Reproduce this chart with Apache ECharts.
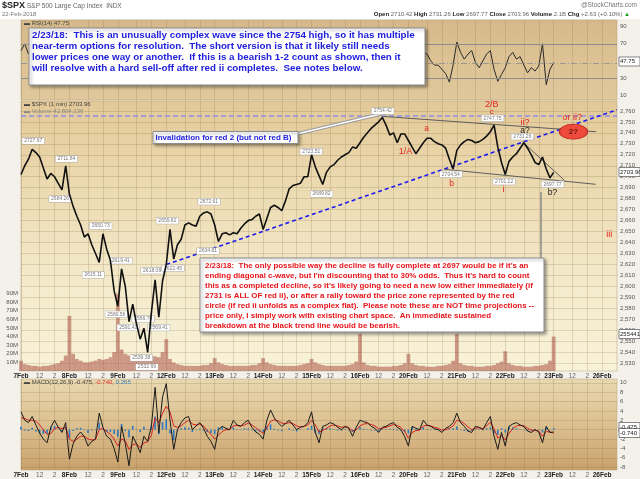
<!DOCTYPE html>
<html lang="en">
<head>
<meta charset="UTF-8">
<title>$SPX 1 min</title>
<script src="https://cdn.jsdelivr.net/npm/echarts@6/dist/echarts.min.js"></script>
<style>
html, body { margin: 0; padding: 0; background: #fff; }
#main { width: 640px; height: 479px; }
</style>
</head>
<body>
<div id="main"></div>
<script>
// one slot = 30 minutes, 13 slots per trading day
var days = ['7Feb','8Feb','9Feb','12Feb','13Feb','14Feb','15Feb','16Feb','20Feb','21Feb','22Feb','23Feb','26Feb'];

var price = [
  2702,2710,2716,2725,2722,2718,2708,2698,2703,2700,2694,2688,2710,
  2684,2673,2664,2656,2645,2648,2638,2630,2622,2648,2634,2624,2596,
  2582,2616,2600,2568,2584,2566,2552,2562,2540,2576,2606,2572,2605,
  2620,2652,2625,2638,2643,2656,2658,2656,2655,2664,2667,2668,2666,
  2656,2641,2648,2649,2647,2649,2648,2653,2657,2660,2661,2664,2666,
  2652,2662,2672,2674,2672,2669,2678,2689,2692,2693,2694,2700,2700,
  2720,2709,2701,2693,2704,2709,2711,2715,2718,2720,2722,2727,2726,
  2731,2736,2740,2744,2747,2750,2754,2747,2738,2740,2731,2739,2739,
  2733,2727,2721,2726,2731,2735,2735,2732,2730,2729,2726,2716,2707,
  2724,2729,2732,2734,2733,2731,2732,2734,2737,2741,2747,2727,2713,
  2702,2714,2718,2721,2726,2731,2726,2720,2713,2711,2718,2707,2699,2704
];

// volume in millions
var volume = [
  12,8,7,6,6,5,6,6,7,8,9,12,18,
  64,20,14,12,10,10,11,12,14,13,14,16,22,
  90,25,20,18,16,15,14,14,15,18,17,16,22,
  37,14,10,8,7,6,6,6,6,6,7,7,9,
  15,10,8,7,6,6,6,6,6,6,7,7,9,
  15,10,8,7,6,6,6,6,6,6,7,8,9,
  14,10,8,7,6,6,6,6,6,6,7,8,11,
  43,10,7,6,6,5,5,5,5,6,6,7,9,
  20,9,7,6,6,5,5,5,6,6,7,8,12,
  43,9,7,6,6,5,5,5,6,6,7,9,11,
  23,9,7,6,6,5,5,5,6,6,7,8,12,40
];

var rsi = [
  62,70,58,66,48,40,55,38,60,45,22,50,68,
  30,42,35,48,38,25,45,40,58,35,42,30,38,
  55,60,22,45,35,50,30,55,40,68,72,38,65,
  70,62,35,58,62,55,45,60,52,58,48,40,45,
  40,55,52,48,55,50,58,60,52,48,55,50,45,
  24,62,60,55,48,52,62,58,50,55,60,48,52,
  68,60,30,55,58,52,58,55,50,56,60,48,52,
  62,58,60,56,54,60,64,35,38,55,40,60,50,
  22,45,38,55,60,58,50,45,45,40,35,25,45,
  72,60,52,58,62,48,42,50,58,62,40,26,34,
  42,55,60,52,55,45,36,42,38,44,70,22,40,48
];

var macd = [
  3.8,2,1.5,2.8,1,-0.7,-2,-2.8,0.5,2,0.5,-0.6,1.5,
  -6.3,-3,-1.4,-0.5,-1.5,-3.5,-2.5,-2,3.5,0.5,-1.4,-2,-4,
  -6.9,0.7,-3,-7.7,-1.4,-3,-4.9,-1.4,-2.5,0.7,9,-0.7,7,
  9.8,2,-4.2,0,1.5,2.5,2.8,0,0.8,1.5,0.3,-1.4,-2.5,
  -4.2,0,0.7,0.3,0,2,1,0.7,1.5,2,0.5,-0.5,-1,
  -2,2,4.2,2.5,1.5,0.7,1.3,2,1,0,0.5,0.7,1.5,
  3.8,-0.6,-2.8,0.7,1,1.5,1.2,0.5,0,0.7,0.3,-1.4,0.5,
  2,1.7,1.5,0.7,0.3,-0.6,0.5,0.7,1.2,1.5,0.5,0,-1.5,
  -3.5,0.7,0.3,0,2,1,0.7,0.2,0,-0.6,0.3,0.7,1.5,
  3.5,1.5,0.7,-0.3,-0.6,0.7,0.5,0,1.5,2.8,-1.4,-4.2,-0.6,
  -3.5,0.7,1.2,1.5,1,0.7,-0.3,-0.6,0,-0.5,-2.8,0.7,-0.6,-0.5
];

var signal = [
  2.5,2.4,2,2,1.8,1,0,-1,-0.8,0.2,0.5,0.2,0.5,
  -2,-2.5,-2,-1.4,-1.4,-2,-2.2,-2.1,0,0.3,-0.4,-1,-2,
  -3.5,-2,-2.4,-4.2,-3.2,-3,-3.8,-2.8,-2.6,-1.2,2.5,1.5,3.5,
  5,3.8,0.8,0.5,0.8,1.5,2,1.2,1,1.2,0.8,-0.2,-1,
  -2,-1.2,-0.4,0,0,0.8,0.9,0.8,1,1.4,1,0.4,-0.2,
  -0.8,0.4,1.8,2.1,1.9,1.4,1.3,1.5,1.3,0.8,0.6,0.7,1,
  2,1,-0.5,-0.2,0.3,0.8,1,0.8,0.5,0.6,0.5,-0.3,0,
  0.8,1.2,1.3,1.1,0.8,0.2,0.3,0.5,0.8,1.1,0.9,0.5,-0.4,
  -1.8,-0.6,-0.2,-0.1,0.8,0.9,0.8,0.5,0.3,-0.1,0,0.3,0.8,
  2,1.8,1.3,0.6,0,0.3,0.4,0.2,0.8,1.6,0.2,-1.8,-1.2,
  -2.2,-0.8,0.2,0.8,0.9,0.8,0.3,-0.1,-0.1,-0.3,-1.4,-0.4,-0.5,-0.74
];

var hist = [
  0.6,-0.2,-0.3,0.4,-0.4,-0.8,-0.9,-0.8,0.6,0.8,0,-0.4,0.5,
  -1.8,-0.3,0.3,0.4,-0.1,-0.7,-0.2,0.1,1.5,0.1,-0.5,-0.5,-0.9,
  -1.5,1.2,-0.3,-1.6,0.8,0.1,-0.5,0.6,0.1,0.9,2.8,-1,1.6,
  2.2,-0.8,-2.2,-0.2,0.3,0.5,0.4,-0.5,-0.1,0.2,-0.2,-0.5,-0.7,
  -1,0.5,0.5,0.2,0,0.5,0.1,-0.1,0.3,0.3,-0.2,-0.4,-0.4,
  -0.5,0.7,1.1,0.2,-0.2,-0.3,0,0.3,-0.2,-0.4,-0.1,0,0.3,
  0.8,-0.7,-1,0.4,0.3,0.3,0.1,-0.2,-0.2,0.1,-0.1,-0.5,0.2,
  0.5,0.2,0.1,-0.2,-0.2,-0.4,0.1,0.1,0.2,0.2,-0.2,-0.2,-0.5,
  -0.8,0.6,0.2,0.1,0.5,0.1,-0.1,-0.1,-0.1,-0.2,0.1,0.2,0.3,
  0.7,-0.1,-0.3,-0.4,-0.3,0.2,0.1,-0.1,0.3,0.5,-0.7,-1.1,0.3,
  -0.6,0.7,0.5,0.3,0.1,-0.1,-0.3,-0.2,0.1,-0.1,-0.6,0.5,-0.1,0.3
];

var rsiTicks = [10, 30, 50, 70, 90];
var priceTicks = [2530,2540,2550,2560,2570,2580,2590,2600,2610,2620,2630,2640,2650,2660,2670,2680,2690,2700,2710,2720,2730,2740,2750,2760];
var volTicks = [10, 20, 30, 40, 50, 60, 70, 80, 90];
var macdTicks = [-8, -6, -4, -2, 0, 2, 4, 6, 8, 10];

// wave labels: text, slot, price, colour, size
var waveLabels = [
  ['2/B', 126.4, 2765.4, '#e3261f', 9],
  ['c', 126.4, 2759, '#e3261f', 8],
  ['a', 108.9, 2743.5, '#e3261f', 8.5],
  ['1/A', 103.2, 2723.4, '#e3261f', 9],
  ['b', 115.6, 2694, '#e3261f', 8.5],
  ['i', 129.5, 2687.9, '#e3261f', 9],
  ['ii?', 135.3, 2749.2, '#e3261f', 9],
  ['a?', 135.3, 2741.9, '#222', 8.5],
  ['b?', 142.7, 2685.5, '#222', 8.5],
  ['or ii?', 148, 2754, '#e3261f', 9],
  ['iii', 157.9, 2647.5, '#e3261f', 9]
];

// price tags at swing points: text, slot, price
var priceTags = [
  ['2727.67', 3.3, 2732.6], ['2711.84', 12.2, 2716.2], ['2684.26', 10.5, 2679.7],
  ['2650.73', 21.4, 2655.1], ['2615.11', 19.4, 2610.5], ['2619.41', 26.8, 2623.5],
  ['2580.56', 25.6, 2574.7], ['2591.41', 28.8, 2562.6], ['2566.70', 32.8, 2570.4],
  ['2569.41', 37.0, 2562.5], ['2539.38', 32.3, 2534.9], ['2532.69', 33.8, 2526.6],
  ['2618.08', 35.2, 2614.4], ['2659.82', 39.3, 2659.9], ['2622.45', 40.8, 2616.6],
  ['2672.61', 50.5, 2677.3], ['2634.81', 50.2, 2632.3], ['2723.51', 77.9, 2722.8],
  ['2689.82', 80.7, 2684.3], ['2754.42', 97.1, 2759.9], ['2747.75', 126.6, 2753.2],
  ['2731.26', 134.6, 2736.5], ['2704.54', 115.4, 2702.2], ['2701.12', 129.7, 2695.5],
  ['2697.77', 142.7, 2693.1]
];

var topNote = [
  '2/23/18:  This is an unusually complex wave since the 2754 high, so it has multiple',
  'near-term options for resolution.  The short version is that it likely still needs',
  'lower prices one way or another.  If this is a bearish 1-2 count as shown, then it',
  'will resolve with a hard sell-off after red ii completes.  See notes below.'
];
var lowNote = [
  '2/23/18:  The only possible way the decline is fully complete at 2697 would be if it\'s an',
  'ending diagonal c-wave, but I\'m discounting that to 30% odds.  Thus it\'s hard to count',
  'this as a completed decline, so it\'s likely going to need a new low either immediately (if',
  '2731 is ALL OF red ii), or after a rally toward the price zone represented by the red',
  'circle (if red ii unfolds as a complex flat).  Please note these are NOT time projections --',
  'price only, I simply work with existing chart space.  An immediate sustained',
  'breakdown at the black trend line would be bearish.'
];

var FONT = 'Liberation Sans, Arial, sans-serif';
var CLEAR = 'rgba(0,0,0,0)';

function pairs(a) { return a.map(function (v, i) { return [i, v]; }); }

var xTicks = [];
days.forEach(function (d, k) {
  [0, 5, 9].forEach(function (o) { if (k * 13 + o <= 160) xTicks.push(k * 13 + o); });
});
function xLabel(v) {
  var r = v % 13;
  if (r === 0) return '{d|' + days[v / 13] + '}';
  return r === 5 ? '12' : '2';
}
function xAxis(g, lab) {
  return {
    type: 'value', gridIndex: g, min: 0, max: 160,
    axisLine: { show: false },
    axisTick: { show: false, customValues: xTicks },
    axisLabel: { show: lab, customValues: xTicks, formatter: xLabel, fontSize: 6.5, color: '#666', margin: 2, fontFamily: FONT,
      rich: { d: { fontSize: 6.5, fontWeight: 'bold', color: '#222', fontFamily: FONT } } },
    splitLine: { show: true, lineStyle: { color: 'rgba(125,100,55,0.2)', width: 1 } }
  };
}
function yAxis(g, pos, min, max, ticks, grid, fmt) {
  return {
    type: 'value', gridIndex: g, position: pos, min: min, max: max,
    axisLine: { show: false },
    axisTick: { show: false, customValues: ticks },
    axisLabel: { customValues: ticks, fontSize: 6, color: '#555', margin: 3, fontFamily: FONT, formatter: fmt },
    splitLine: { show: grid, lineStyle: { color: 'rgba(125,100,55,0.2)', width: 1 } }
  };
}
function vgrad(stops) {
  return { type: 'linear', x: 0, y: 0, x2: 0, y2: 1,
    colorStops: stops.map(function (c, i) { return { offset: i / (stops.length - 1), color: c }; }) };
}

var markPts = priceTags.map(function (t) {
  return { name: t[0], coord: [t[1], t[2]], symbol: 'rect', symbolSize: 1, itemStyle: { color: CLEAR },
    label: { show: true, position: 'inside', formatter: '{b}', fontSize: 5, color: '#777', fontFamily: FONT,
      backgroundColor: '#fff', borderColor: '#aaa', borderWidth: 0.5, padding: [1, 2, 0, 2] } };
}).concat([{
  name: '2?', coord: [148.3, 2741], symbol: 'circle', symbolSize: [28, 15],
  itemStyle: { color: '#ee4b3d', borderColor: '#bf2a20', borderWidth: 1 },
  label: { show: true, position: 'inside', formatter: '{b}', fontSize: 8, fontWeight: 'bold', color: '#6a1510', fontFamily: FONT }
}]).concat(waveLabels.map(function (t) {
  return { name: t[0], coord: [t[1], t[2]], symbol: 'rect', symbolSize: 1, itemStyle: { color: CLEAR },
    label: { show: true, position: 'inside', formatter: '{b}', fontSize: t[4], color: t[3], fontFamily: FONT } };
}));

function seg(a, b, style) { return [{ coord: a, lineStyle: style }, { coord: b }]; }
var grayLine = { color: '#5e5e5e', width: 1, type: 'solid' };
var trendLines = [
  seg([0, 2756], [160, 2756], { color: '#8f8fe8', width: 1.5, type: [5, 3] }),
  seg([39, 2620], [160, 2761], { color: '#1b1bf0', width: 1.6, type: [4, 3] }),
  seg([97, 2755], [154.4, 2741], grayLine),
  seg([113.6, 2706.8], [154.3, 2693.1], grayLine),
  seg([134.6, 2731.9], [145.8, 2697], grayLine),
  seg([139.4, 2686], [139.4, 2622], { color: '#8a8a8a', width: 1.5, type: 'solid' }),
  seg([74, 2739], [96.5, 2757.2], { color: '#999', width: 3.5, type: 'solid' }),
  seg([74, 2739], [96.5, 2757.2], { color: '#fff', width: 1.5, type: 'solid' })
];

function box(x, y, w, h, shadow) {
  return { type: 'rect', z: 100, shape: { x: x, y: y, width: w, height: h },
    style: { fill: '#fff', stroke: '#8c8c8c', lineWidth: 1,
      shadowBlur: shadow ? 3 : 0, shadowOffsetX: shadow ? 2 : 0, shadowOffsetY: shadow ? 2 : 0, shadowColor: 'rgba(0,0,0,0.35)' } };
}
function txt(x, y, s, font, fill, align) {
  return { type: 'text', z: 101, style: { x: x, y: y, text: s, font: font, fill: fill, textAlign: align || 'left', textVerticalAlign: 'middle' } };
}
function note(x, y, lines, font, fill, lh) {
  return { type: 'text', z: 101, style: { x: x, y: y, text: lines.join('\n'), font: font, fill: fill, lineHeight: lh,
    textAlign: 'left', textVerticalAlign: 'top' } };
}
function valBox(y, s) {
  return [
    { type: 'rect', z: 90, shape: { x: 619, y: y - 4.5, width: 21, height: 9 }, style: { fill: '#fff', stroke: '#555', lineWidth: 0.7 } },
    txt(620, y, s, '6px ' + FONT, '#222')
  ];
}

var graphics = [
  { type: 'rect', z: -10, shape: { x: 0, y: 0, width: 640, height: 19 }, style: { fill: '#fff' } },
  txt(2, 6, '$SPX', 'bold 9px ' + FONT, '#222'),
  txt(27, 6, 'S&P 500 Large Cap Index  INDX', '6.5px ' + FONT, '#666'),
  txt(2, 14.5, '22-Feb-2018', '6px ' + FONT, '#777'),
  txt(637, 5, '@StockCharts.com', '6.5px ' + FONT, '#777', 'right'),
  { type: 'text', z: 101, style: { x: 630, y: 14.5, textAlign: 'right', textVerticalAlign: 'middle',
    text: '{b|Open} 2710.42 {b|High} 2731.26 {b|Low} 2697.77 {b|Close} 2703.96 {b|Volume} 2.1B {b|Chg} +2.63 (+0.10%) {g|▲}',
    font: '6px ' + FONT, fill: '#666',
    rich: { b: { font: 'bold 6px ' + FONT, fill: '#222' }, g: { font: '6px ' + FONT, fill: '#1a9a1a' } } } },
  txt(24, 23, '▬ RSI(14) 47.75', '6px ' + FONT, '#444'),
  txt(24, 104.5, '▬ $SPX (1 min) 2703.96', '6px ' + FONT, '#444'),
  txt(24, 111.5, '▬ Volume 42,804,136', '6px ' + FONT, '#888'),
  { type: 'text', z: 101, style: { x: 24, y: 382, textVerticalAlign: 'middle', text: '▬ MACD(12,26,9) -0.475, {r|-0.740}, {u|0.265}',
    font: '6px ' + FONT, fill: '#444', rich: { r: { fill: '#e03030', font: '6px ' + FONT }, u: { fill: '#3a7fc0', font: '6px ' + FONT } } } },
  box(29, 28, 396, 57, true),
  note(32, 30, topNote, 'bold 9.8px ' + FONT, '#2121dd', 10.9),
  box(200, 258, 344, 74, true),
  note(205, 261, lowNote, 'bold 7.95px ' + FONT, '#e8141a', 9.9),
  box(153, 131.5, 145, 12, true),
  txt(155.5, 137.7, 'Invalidation for red 2 (but not red B)', 'bold 8px ' + FONT, '#2121dd')
].concat(valBox(61.5, '47.75'), valBox(172, '2703.96'), valBox(334, '2554411'), valBox(427, '-0.475'), valBox(433, '-0.740'));

var chart = echarts.init(document.getElementById('main'));
var option = {
  animation: false,
  backgroundColor: '#f4f1ea',
  grid: [
    { left: 21, top: 20, width: 596, height: 80, show: true, borderColor: '#b9a27a', borderWidth: 0.5,
      backgroundColor: vgrad(['#d6b98a', '#dcc294', '#e0c89c']) },
    { left: 21, top: 101, width: 596, height: 270, show: true, borderColor: '#b9a27a', borderWidth: 0.5,
      backgroundColor: vgrad(['#e3c998', '#ecdbb2', '#f4eacb', '#f8f2d8']) },
    { left: 21, top: 379, width: 596, height: 92, show: true, borderColor: '#b9a27a', borderWidth: 0.5,
      backgroundColor: vgrad(['#e9d8b0', '#dcc090', '#c8a16b']) }
  ],
  xAxis: [xAxis(0, false), xAxis(1, true), xAxis(2, true)],
  yAxis: [
    yAxis(0, 'right', 4, 98, rsiTicks, false),
    yAxis(1, 'right', 2523, 2769, priceTicks, true),
    yAxis(1, 'left', 0, 314, volTicks, false, function (v) { return v + 'M'; }),
    yAxis(2, 'right', -8.6, 10.8, macdTicks, true)
  ],
  graphic: graphics,
  series: [
    {
      name: 'RSI', type: 'line', xAxisIndex: 0, yAxisIndex: 0, data: pairs(rsi), symbol: 'none',
      lineStyle: { color: '#2a2a2a', width: 1 },
      markLine: { silent: true, symbol: ['none', 'none'], label: { show: false },
        data: [
          { yAxis: 70, lineStyle: { color: '#8d8d8d', width: 1, type: 'solid' } },
          { yAxis: 30, lineStyle: { color: '#8d8d8d', width: 1, type: 'solid' } },
          { yAxis: 47.75, lineStyle: { color: '#8d8d8d', width: 0.8, type: [6, 2, 1, 2] } }
        ] }
    },
    {
      name: 'Volume', type: 'bar', xAxisIndex: 1, yAxisIndex: 2, data: pairs(volume), barWidth: 3.8,
      itemStyle: { color: 'rgba(170,80,68,0.55)' }
    },
    {
      name: '$SPX', type: 'line', xAxisIndex: 1, yAxisIndex: 1, data: pairs(price), symbol: 'none', z: 5,
      lineStyle: { color: '#111', width: 1.6 },
      markLine: { silent: true, symbol: ['none', 'none'], label: { show: false }, data: trendLines },
      markPoint: { silent: true, data: markPts }
    },
    {
      name: 'Histogram', type: 'bar', xAxisIndex: 2, yAxisIndex: 3, data: pairs(hist), barWidth: 1.6,
      itemStyle: { color: '#2a78c2' }
    },
    {
      name: 'Signal', type: 'line', xAxisIndex: 2, yAxisIndex: 3, data: pairs(signal), symbol: 'none',
      lineStyle: { color: '#d42020', width: 1 }
    },
    {
      name: 'MACD', type: 'line', xAxisIndex: 2, yAxisIndex: 3, data: pairs(macd), symbol: 'none',
      lineStyle: { color: '#1a1a1a', width: 1 }
    }
  ]
};
chart.setOption(option);
</script>
</body>
</html>
